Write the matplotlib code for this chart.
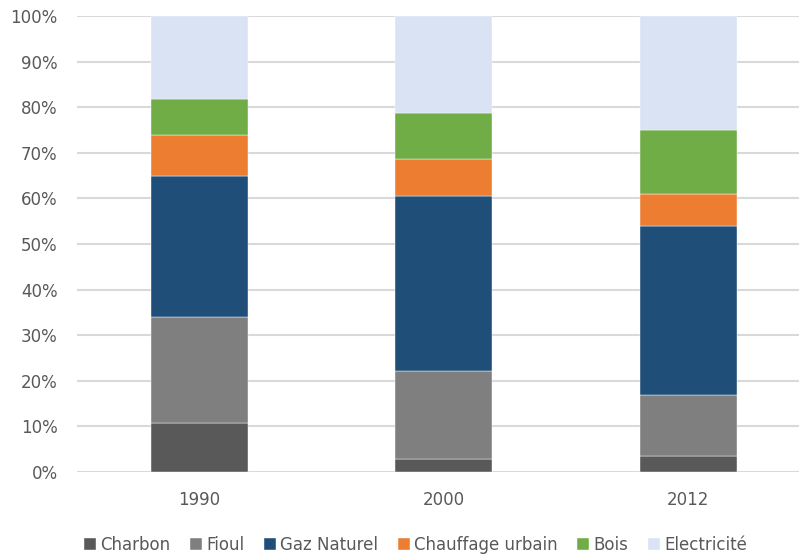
import numpy as np
import matplotlib.pyplot as plt
from matplotlib.ticker import PercentFormatter

# données (part en %)
annees = ["1990", "2000", "2012"]
series = ["Charbon", "Fioul", "Gaz Naturel", "Chauffage urbain", "Bois", "Electricité"]
charbon = [10.8, 2.9, 3.4]
fioul = [23.2, 19.3, 13.5]
gaz = [31.0, 38.3, 37.0]
chauffage = [9.0, 8.1, 7.1]
bois = [7.9, 10.2, 13.9]
electricite = [18.1, 21.2, 25.1]

couleurs = ["#595959", "#7f7f7f", "#1f4e79", "#ed7d31", "#70ad47", "#dae3f3"]
texte = "#595959"

plt.rcParams["font.family"] = ["DejaVu Sans"]

fig = plt.figure(figsize=(7.99, 5.56), dpi=100)
ax = fig.add_axes([77 / 799, 84 / 556, 733.5 / 799, 456 / 556])

x = np.arange(len(annees))
bas = np.zeros(len(annees))
for nom, vals, c in zip(series, [charbon, fioul, gaz, chauffage, bois, electricite], couleurs):
    ax.bar(x, vals, width=0.397, bottom=bas, color=c, label=nom, zorder=3,
           edgecolor="white", linewidth=0.3)
    bas += np.array(vals)

ax.set_xlim(-0.5, 2.5)
ax.set_ylim(0, 100)
ax.set_yticks(np.arange(0, 101, 10))
ax.yaxis.set_major_formatter(PercentFormatter(decimals=0))
ax.set_xticks(x)
ax.set_xticklabels(annees)
ax.tick_params(length=0, labelsize=12, colors=texte, pad=14)
ax.tick_params(axis="x", pad=14)
ax.grid(axis="y", color="#d9d9d9", linewidth=1.5, zorder=0)
for s in ax.spines.values():
    s.set_visible(False)

fig.legend(loc="center", bbox_to_anchor=(0.52, 11 / 556), ncol=6,
           frameon=False, fontsize=12, labelcolor=texte, handlelength=0.7,
           handleheight=0.7, handletextpad=0.25, columnspacing=1.2)

fig.savefig("out.png", dpi=100)
